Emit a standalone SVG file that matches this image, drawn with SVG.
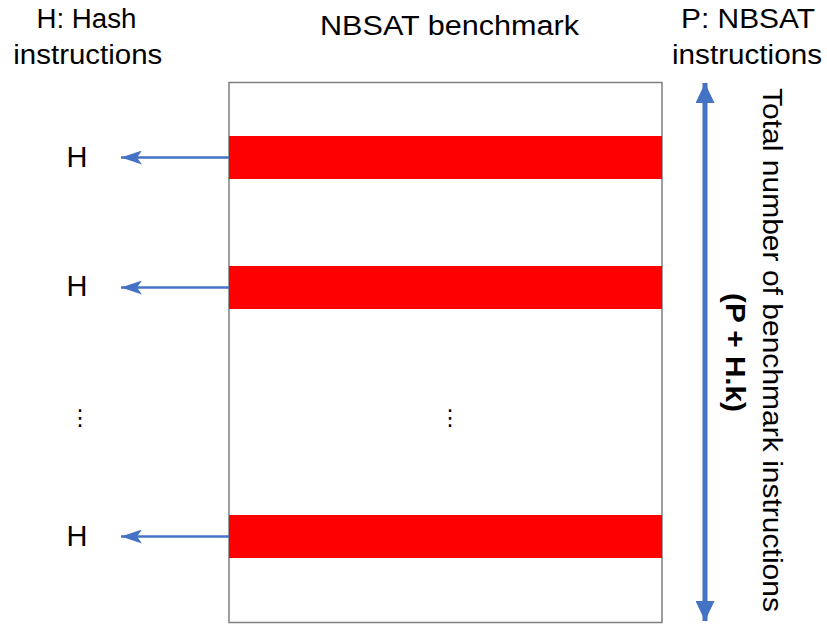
<svg xmlns="http://www.w3.org/2000/svg" width="827" height="624" viewBox="0 0 827 624">
<defs>
<style>
.t{font-family:"Liberation Sans",Arial,sans-serif;fill:#000;}
.bar{fill:#FF0000;}
.conn{stroke:#4472C4;stroke-width:2.5;fill:none;}
.big{stroke:#4472C4;stroke-width:5;fill:none;}
</style>
<marker id="ah" viewBox="0 0 21 14" refX="21" refY="7" markerWidth="21" markerHeight="14" markerUnits="userSpaceOnUse" orient="auto">
<path d="M0,0 L21,7 L0,14 L5,7 Z" fill="#4472C4"/>
</marker>
<marker id="ahb" viewBox="0 0 20 19" refX="20" refY="9.5" markerWidth="20" markerHeight="19" markerUnits="userSpaceOnUse" orient="auto-start-reverse">
<path d="M0,0 L20,9.5 L0,19 Z" fill="#4472C4"/>
</marker>
</defs>
<rect width="827" height="624" fill="#fff"/>

<g id="headers">
<text class="t" x="86.5" y="28" font-size="27" text-anchor="middle" textLength="100" lengthAdjust="spacingAndGlyphs">H: Hash</text>
<text class="t" x="87.8" y="64" font-size="27" text-anchor="middle" textLength="149" lengthAdjust="spacingAndGlyphs">instructions</text>
<text class="t" x="449.5" y="35" font-size="27" text-anchor="middle" textLength="259" lengthAdjust="spacingAndGlyphs">NBSAT benchmark</text>
<text class="t" x="748" y="28" font-size="27" text-anchor="middle" textLength="134" lengthAdjust="spacingAndGlyphs">P: NBSAT</text>
<text class="t" x="747" y="64" font-size="27" text-anchor="middle" textLength="150" lengthAdjust="spacingAndGlyphs">instructions</text>
</g>

<g id="benchmark">
<rect x="229" y="82.5" width="433" height="540" fill="#fff" stroke="#7F7F7F" stroke-width="1.5"/>
<rect class="bar" x="229" y="136" width="433" height="43"/>
<rect class="bar" x="229" y="266" width="433" height="43"/>
<rect class="bar" x="229" y="515" width="433" height="43"/>
<text class="t" x="450" y="425" font-size="22" text-anchor="middle" style="font-family:'DejaVu Sans',sans-serif">⋮</text>
</g>

<g id="hash-labels">
<text class="t" x="77" y="167" font-size="29" text-anchor="middle">H</text>
<text class="t" x="77" y="296" font-size="29" text-anchor="middle">H</text>
<text class="t" x="80" y="425" font-size="22" text-anchor="middle" style="font-family:'DejaVu Sans',sans-serif">⋮</text>
<text class="t" x="77" y="546" font-size="29" text-anchor="middle">H</text>
</g>

<g id="total">
<text class="t" transform="translate(763,350) rotate(90)" x="0" y="0" font-size="28" text-anchor="middle" textLength="524" lengthAdjust="spacingAndGlyphs">Total number of benchmark instructions</text>
<text class="t" transform="translate(726,352.5) rotate(90)" x="0" y="0" font-size="28" font-weight="bold" text-anchor="middle" textLength="119" lengthAdjust="spacingAndGlyphs">(P + H.k)</text>
</g>

<g id="connectors">
<line class="conn" x1="229" y1="157.5" x2="121" y2="157.5" marker-end="url(#ah)"/>
<line class="conn" x1="229" y1="287.5" x2="121" y2="287.5" marker-end="url(#ah)"/>
<line class="conn" x1="229" y1="536.5" x2="121" y2="536.5" marker-end="url(#ah)"/>
<line class="big" x1="705" y1="83" x2="705" y2="621" marker-start="url(#ahb)" marker-end="url(#ahb)"/>
</g>
</svg>
